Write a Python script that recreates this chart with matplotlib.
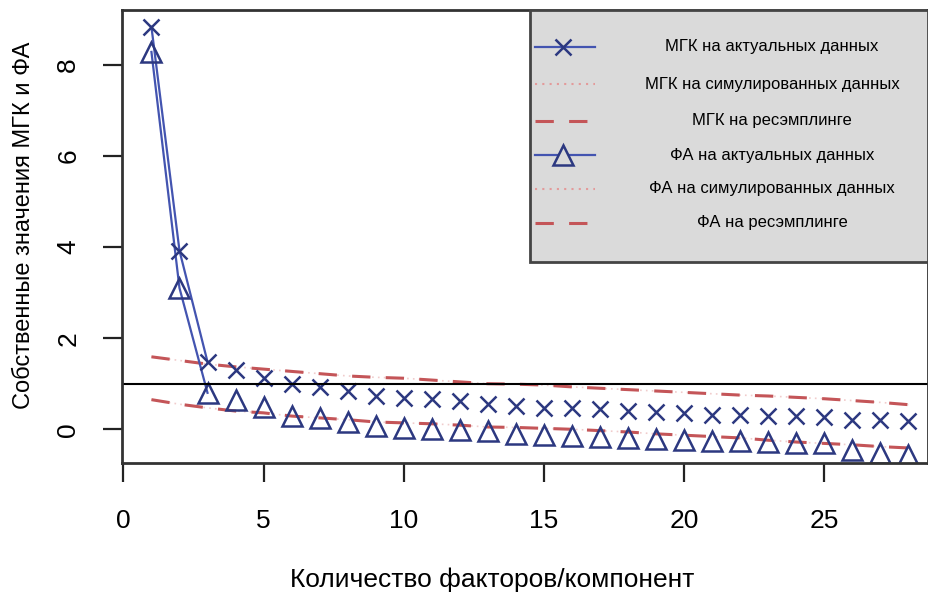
import matplotlib
matplotlib.use("Agg")
import matplotlib.pyplot as plt
from matplotlib.lines import Line2D
from matplotlib.patches import Rectangle

plt.rcParams['font.family'] = ['Liberation Sans', 'DejaVu Sans']

# Data
factors = list(range(1, 29))
pc_actual = [8.83, 3.92, 1.48, 1.30, 1.13, 0.99, 0.92, 0.84, 0.73, 0.69, 0.66, 0.62, 0.55, 0.50,
             0.47, 0.47, 0.45, 0.40, 0.38, 0.35, 0.32, 0.31, 0.29, 0.29, 0.26, 0.21, 0.21, 0.18]
fa_actual = [8.28, 3.10, 0.80, 0.64, 0.48, 0.29, 0.25, 0.16, 0.07, 0.03, 0.01, -0.01, -0.04, -0.10,
             -0.12, -0.15, -0.18, -0.19, -0.21, -0.23, -0.25, -0.26, -0.28, -0.30, -0.30, -0.45, -0.52, -0.57]
pc_resample = [1.59, 1.51, 1.43, 1.37, 1.32, 1.27, 1.22, 1.17, 1.14, 1.12, 1.08, 1.04, 1.00, 0.99,
               0.97, 0.93, 0.90, 0.87, 0.84, 0.81, 0.78, 0.75, 0.73, 0.70, 0.67, 0.63, 0.59, 0.54]
pc_simulated = pc_resample[:]
fa_resample = [0.65, 0.55, 0.47, 0.40, 0.36, 0.29, 0.25, 0.21, 0.16, 0.14, 0.12, 0.09, 0.05, 0.04,
               0.02, 0.00, -0.03, -0.06, -0.10, -0.13, -0.16, -0.19, -0.24, -0.28, -0.31, -0.34, -0.38, -0.41]
fa_simulated = fa_resample[:]
xticks = [0, 5, 10, 15, 20, 25]
yticks = [0, 2, 4, 6, 8]
legend_labels = ["МГК на актуальных данных", "МГК на симулированных данных", "МГК на ресэмплинге",
                 "ФА на актуальных данных", "ФА на симулированных данных", "ФА на ресэмплинге"]

BLUE = '#4354b0'
MARK = '#2c3880'
RED = '#c45558'
DOT = '#e39a9a'

fig = plt.figure(figsize=(9.29, 5.99), dpi=100)
ax = fig.add_axes([122/929, 1 - 463/599, (928-122)/929, (463-10)/599])

# simulated (dotted) and resampled (dashed)
ax.plot(factors, pc_simulated, color=DOT, ls=(0, (1, 2.5)), lw=1.2, alpha=0.5)
ax.plot(factors, fa_simulated, color=DOT, ls=(0, (1, 2.5)), lw=1.2, alpha=0.5)
ax.plot(factors, pc_resample, color=RED, ls=(0, (6, 5)), lw=2.2)
ax.plot(factors, fa_resample, color=RED, ls=(0, (6, 5)), lw=2.2)

# actual data: connecting lines visible only where points are far apart
ax.plot(factors[:3], pc_actual[:3], color=BLUE, lw=1.6)
ax.plot(factors[:3], fa_actual[:3], color=BLUE, lw=1.6)
ax.plot(factors, pc_actual, ls='none', marker='x', ms=12, mew=1.8, color=MARK)
ax.plot(factors, fa_actual, ls='none', marker='^', ms=15, mew=1.8, mfc='none', mec=MARK)

ax.axhline(1, color='black', lw=1.5)

ax.set_xlim(-0.05, 28.7)
ax.set_ylim(-0.74, 9.2)
ax.set_xticks(xticks)
ax.set_yticks(yticks)
ax.tick_params(axis='both', labelsize=19, length=14, width=1.6, color='#222222', pad=16)
ax.tick_params(axis='x', pad=19)
for lab in ax.get_yticklabels():
    lab.set_rotation(90)
    lab.set_va('center')
for s in ax.spines.values():
    s.set_linewidth(2)
    s.set_color('#333333')

ax.set_xlabel("Количество факторов/компонент", fontsize=19)
ax.xaxis.set_label_coords((492-122)/806, -(580-463)/453)
ax.xaxis.label.set_va('center')
ax.set_ylabel("Собственные значения МГК и ФА", fontsize=17)
ax.yaxis.set_label_coords(-(122-24)/806, (463-225)/453)
ax.yaxis.label.set_va('center')

# Legend drawn manually
lx0, lx1 = (530-122)/(928-122), 1.0
ly1 = 1.0
ly0 = 1 - (262-10)/(463-10)
ax.add_patch(Rectangle((lx0, ly0), lx1 - lx0, ly1 - ly0, transform=ax.transAxes,
                       facecolor='#dadada', edgecolor='#444444', lw=2, zorder=5))
rows_px = [47, 84, 121, 155, 189, 223]
line_styles = [
    dict(color=BLUE, lw=1.6),
    dict(color=DOT, lw=1.5, ls=(0, (1, 2.5))),
    dict(color=RED, lw=2.2, ls=(0, (6, 5))),
    dict(color=BLUE, lw=1.6),
    dict(color=DOT, lw=1.5, ls=(0, (1, 2.5))),
    dict(color=RED, lw=2.2, ls=(0, (6, 5))),
]
markers = ['x', None, None, '^', None, None]
hx0 = (535-122)/(928-122)
hx1 = (595-122)/(928-122)
hxm = (563-122)/(928-122)
tx = (772-122)/(928-122)
for py, st, mk, lab in zip(rows_px, line_styles, markers, legend_labels):
    yy = 1 - (py-10)/(463-10)
    ax.add_line(Line2D([hx0, hx1], [yy, yy], transform=ax.transAxes, zorder=6, **st))
    if mk == 'x':
        ax.add_line(Line2D([hxm], [yy], transform=ax.transAxes, zorder=7, ls='none',
                           marker='x', ms=12, mew=1.8, color=MARK))
    elif mk == '^':
        ax.add_line(Line2D([hxm], [yy], transform=ax.transAxes, zorder=7, ls='none',
                           marker='^', ms=15, mew=1.8, mfc='#dadada', mec=MARK))
    ax.text(tx, yy, lab, transform=ax.transAxes, ha='center', va='center', fontsize=12, zorder=7)

fig.savefig("out.png", dpi=100)
